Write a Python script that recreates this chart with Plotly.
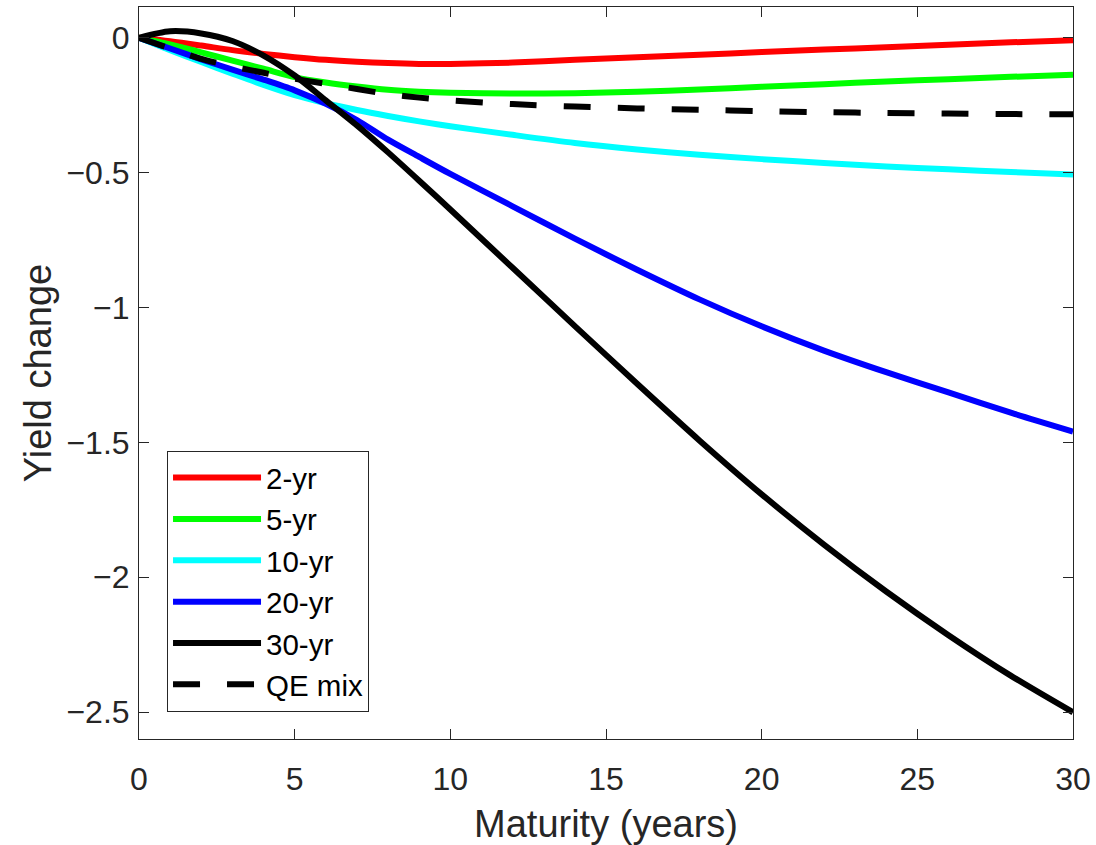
import plotly.graph_objects as go

maturity = [0, 1, 2, 3, 4, 5, 6, 7, 8, 9, 10, 12, 14, 16, 18, 20, 22, 24, 26, 28, 30]

yr2 = [0, -0.013, -0.029, -0.046, -0.060, -0.072, -0.082, -0.089, -0.094, -0.097, -0.097,
       -0.092, -0.082, -0.072, -0.063, -0.053, -0.044, -0.035, -0.026, -0.017, -0.009]
yr5 = [0, -0.025, -0.054, -0.085, -0.115, -0.146, -0.166, -0.181, -0.193, -0.200, -0.204,
       -0.207, -0.206, -0.200, -0.192, -0.182, -0.172, -0.162, -0.154, -0.145, -0.137]
yr10 = [0, -0.046, -0.090, -0.133, -0.175, -0.213, -0.243, -0.268, -0.290, -0.310, -0.328,
        -0.360, -0.390, -0.414, -0.434, -0.450, -0.464, -0.477, -0.488, -0.498, -0.507]
yr20 = [0, -0.040, -0.080, -0.118, -0.155, -0.195, -0.245, -0.305, -0.378, -0.442, -0.505,
        -0.625, -0.745, -0.860, -0.970, -1.070, -1.160, -1.240, -1.315, -1.390, -1.460]
yr30 = [0, 0.024, 0.016, -0.012, -0.066, -0.140, -0.232, -0.325, -0.425, -0.530, -0.637,
        -0.853, -1.069, -1.283, -1.493, -1.693, -1.879, -2.053, -2.215, -2.365, -2.501]
qe_mix = [0, -0.040, -0.078, -0.106, -0.130, -0.152, -0.171, -0.190, -0.209, -0.222, -0.232,
          -0.246, -0.255, -0.262, -0.267, -0.272, -0.276, -0.279, -0.281, -0.283, -0.284]

series = [
    ("2-yr", yr2, "#ff0000", "solid"),
    ("5-yr", yr5, "#00ff00", "solid"),
    ("10-yr", yr10, "#00ffff", "solid"),
    ("20-yr", yr20, "#0000ff", "solid"),
    ("30-yr", yr30, "#000000", "solid"),
    ("QE mix", qe_mix, "#000000", "27px,27px"),
]

x_ticks = [0, 5, 10, 15, 20, 25, 30]
y_ticks = [0, -0.5, -1, -1.5, -2, -2.5]
y_tick_text = ["0", "\u22120.5", "\u22121", "\u22121.5", "\u22122", "\u22122.5"]

fig = go.Figure()
for name, vals, color, dash in series:
    fig.add_trace(go.Scatter(
        x=maturity, y=vals, name=name, mode="lines",
        line=dict(color=color, width=6, dash=dash, shape="spline", smoothing=0.8),
        hoverinfo="skip",
    ))

font_family = "Liberation Sans, Arial, sans-serif"
axis_common = dict(
    showgrid=False, zeroline=False, showline=True, linecolor="#262626", linewidth=1,
    mirror="ticks", ticks="inside", ticklen=10, tickwidth=1, tickcolor="#262626",
    tickfont=dict(family=font_family, size=32, color="#262626"), automargin=False,
)

fig.update_layout(
    width=1096, height=845,
    margin=dict(l=139, r=23, t=7, b=106),
    paper_bgcolor="white", plot_bgcolor="white",
    font=dict(family=font_family, color="#262626"),
    xaxis=dict(range=[0, 30], tickvals=x_ticks, ticktext=[str(t) for t in x_ticks],
               ticklabelstandoff=12,
               title=dict(text="Maturity (years)", font=dict(size=38, color="#262626"), standoff=16),
               **axis_common),
    yaxis=dict(range=[-2.6, 0.114], tickvals=y_ticks, ticktext=y_tick_text,
               ticklabelstandoff=2,
               title=dict(text="Yield change", font=dict(size=38, color="#262626"), standoff=3),
               **axis_common),
    legend=dict(x=0.03, y=0.037, xanchor="left", yanchor="bottom",
                bordercolor="#262626", borderwidth=1, bgcolor="white",
                font=dict(family=font_family, size=29.5, color="#000000"),
                itemwidth=88, tracegroupgap=0),
    showlegend=True,
)

fig.write_html("out.html", config={"displayModeBar": False},
               post_script="document.body.style.margin='0';")
